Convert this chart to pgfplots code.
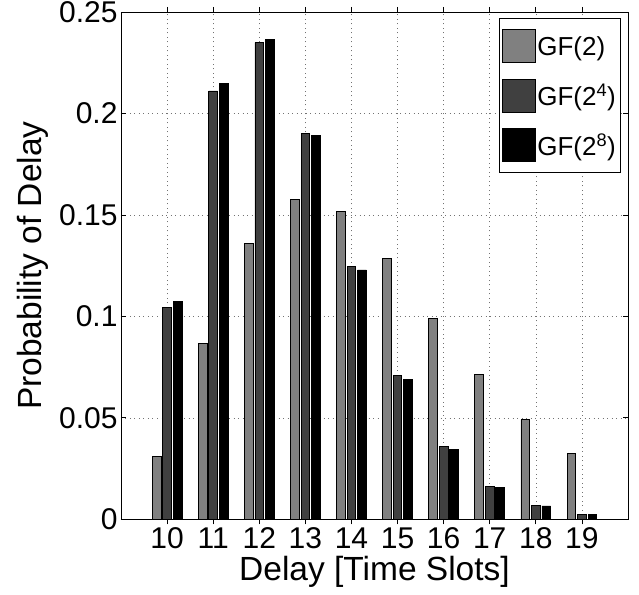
\documentclass[border=0pt]{standalone}
\usepackage{fontspec}
\setmainfont{Liberation Sans}
\usepackage{pgfplots}
\usepackage{pgfplotstable}
\pgfplotsset{compat=1.18}
\usetikzlibrary{calc}
\definecolor{cA}{gray}{0.5}
\definecolor{cB}{gray}{0.25}
\definecolor{cC}{gray}{0.0}

\pgfplotstableread{
x gf2 gf16 gf256
10 0.0309 0.1043 0.1074
11 0.0867 0.2111 0.2150
12 0.1360 0.2349 0.2364
13 0.1577 0.1902 0.1891
14 0.1518 0.1248 0.1229
15 0.1285 0.0708 0.0688
16 0.0991 0.0358 0.0343
17 0.0715 0.0164 0.0158
18 0.0491 0.0069 0.0066
19 0.0325 0.0026 0.0026
}\datatable

\pgfplotsset{
  mylegend/.style={legend image code/.code={%
    \draw[##1, line width=0.8pt] (0pt,-16.5pt) rectangle (33pt,16.5pt);
    \path (0pt,-24.25pt) (0pt,24.25pt);}},
}

\begin{document}
\begin{tikzpicture}
\begin{axis}[
  scale only axis, width=507pt, height=507.3pt,
  xmin=9, xmax=20, ymin=0, ymax=0.25,
  xtick={10,11,12,13,14,15,16,17,18,19},
  ytick={0,0.05,0.1,0.15,0.2,0.25},
  yticklabels={0,0.05,0.1,0.15,0.2,0.25},
  /pgf/number format/assume math mode=true,
  tick align=inside, major tick length=5pt,
  grid=major,
  major grid style={black!55, line width=0.6pt, dash pattern=on 0.8pt off 3.7pt},
  axis line style={line width=0.8pt},
  every tick/.style={line width=0.8pt, black},
  ybar, bar width=8.7pt,
  ticklabel style={font=\fontsize{30}{34}\selectfont},
  label style={font=\fontsize{33.5}{40}\selectfont},
  xlabel={Delay [Time Slots]},
  ylabel={Probability of Delay},
  ylabel shift=4pt,
  legend style={at={(0.9856,0.9876)}, anchor=north east, draw=black, line width=0.8pt,
    fill=white, font=\fontsize{26}{30}\selectfont, inner xsep=3pt, inner ysep=3pt,
    row sep=0pt, column sep=0pt, nodes={inner sep=1.5pt}, cells={anchor=west}},
]
\addplot[fill=cA, draw=black, line width=0.8pt, bar shift=-10.5pt, mylegend] table[x=x,y=gf2]{\datatable};
\addplot[fill=cB, draw=black, line width=0.8pt, bar shift=0pt, mylegend] table[x=x,y=gf16]{\datatable};
\addplot[fill=cC, draw=black, line width=0.8pt, bar shift=10.5pt, mylegend] table[x=x,y=gf256]{\datatable};
\legend{GF(2),GF(2\textsuperscript{4}),GF(2\textsuperscript{8})}
\end{axis}
\pgfresetboundingbox
\path[use as bounding box] ($(current axis.south west)+(-121pt,-74.7pt)$) rectangle ($(current axis.north east)+(11pt,12pt)$);
\end{tikzpicture}
\end{document}
